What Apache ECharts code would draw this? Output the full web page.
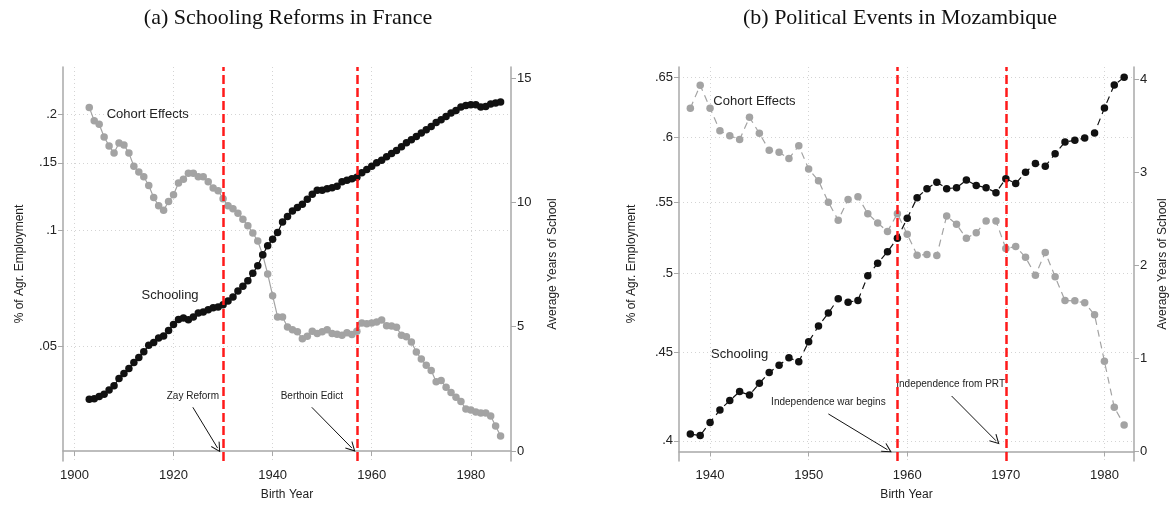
<!DOCTYPE html>
<html lang="en">
<head>
    <meta charset="UTF-8">
    <title>cohort_schooling</title>
    <style type="text/css">
        html, body { margin: 0; padding: 0; background: #fff; }
        #box { width: 1174px; height: 506px; }
    </style>
</head>
<body>
<div id="box"></div>
<script type="text/javascript" src="https://cdn.jsdelivr.net/npm/echarts@6/dist/echarts.min.js"></script>
<script type="text/javascript">
    // (a) France
    const franceYears = [1903, 1904, 1905, 1906, 1907, 1908, 1909, 1910, 1911, 1912, 1913, 1914, 1915, 1916,
        1917, 1918, 1919, 1920, 1921, 1922, 1923, 1924, 1925, 1926, 1927, 1928, 1929, 1930, 1931, 1932, 1933,
        1934, 1935, 1936, 1937, 1938, 1939, 1940, 1941, 1942, 1943, 1944, 1945, 1946, 1947, 1948, 1949, 1950,
        1951, 1952, 1953, 1954, 1955, 1956, 1957, 1958, 1959, 1960, 1961, 1962, 1963, 1964, 1965, 1966, 1967,
        1968, 1969, 1970, 1971, 1972, 1973, 1974, 1975, 1976, 1977, 1978, 1979, 1980, 1981, 1982, 1983, 1984,
        1985, 1986];
    const franceCohort = [.209, .193, .189, .175, .166, .159, .169, .167, .159, .147, .142, .138, .131, .122,
        .116, .113, .119, .124, .133, .136, .141, .141, .138, .138, .134, .129, .127, .121, .116, .114, .111,
        .107, .103, .0986, .094, .0865, .0772, .0678, .0597, .0597, .0562, .0553, .0546, .0524, .0532, .0548,
        .0541, .0546, .0553, .0541, .0538, .0535, .0543, .0537, .0548, .0576, .0573, .0576, .0579, .0586,
        .0566, .0565, .0561, .0535, .0530, .0514, .0484, .0464, .0447, .0433, .0405, .0408, .0392, .0380,
        .0369, .0360, .0344, .0342, .0338, .0336, .0336, .0330, .0311, .0293];
    const franceSchool = [2.08, 2.1, 2.19, 2.28, 2.45, 2.63, 2.92, 3.12, 3.32, 3.56, 3.76, 3.99, 4.25, 4.36,
        4.55, 4.63, 4.85, 5.09, 5.29, 5.35, 5.28, 5.39, 5.55, 5.59, 5.68, 5.76, 5.79, 5.88, 6.03, 6.19, 6.43,
        6.63, 6.85, 7.15, 7.45, 7.89, 8.25, 8.52, 8.79, 9.21, 9.43, 9.65, 9.79, 9.92, 10.12, 10.32, 10.48,
        10.49, 10.55, 10.59, 10.65, 10.83, 10.89, 10.95, 11.01, 11.19, 11.32, 11.45, 11.59, 11.69, 11.83,
        11.96, 12.08, 12.23, 12.39, 12.52, 12.65, 12.79, 12.92, 13.05, 13.21, 13.32, 13.45, 13.59, 13.69,
        13.83, 13.89, 13.92, 13.92, 13.83, 13.85, 13.95, 13.99, 14.03];
    const franceEvents = [1930, 1957];

    // (b) Mozambique
    const mozYears = [1938, 1939, 1940, 1941, 1942, 1943, 1944, 1945, 1946, 1947, 1948, 1949, 1950, 1951,
        1952, 1953, 1954, 1955, 1956, 1957, 1958, 1959, 1960, 1961, 1962, 1963, 1964, 1965, 1966, 1967, 1968,
        1969, 1970, 1971, 1972, 1973, 1974, 1975, 1976, 1977, 1978, 1979, 1980, 1981, 1982];
    const mozCohort = [.6236, .643, .6236, .605, .601, .598, .616, .603, .5895, .588, .583, .593, .575, .566,
        .550, .537, .552, .554, .5417, .535, .529, .5417, .527, .5125, .513, .5123, .540, .534, .5242, .528,
        .5364, .5364, .517, .5185, .511, .499, .5144, .498, .4824, .4822, .4809, .4733, .4448, .4183, .4086];
    const mozSchool = [.187, .173, .312, .447, .548, .644, .607, .733, .850, .928, 1.007, .965, 1.179, 1.350,
        1.489, 1.642, 1.606, 1.624, 1.891, 2.024, 2.148, 2.294, 2.508, 2.729, 2.826, 2.896, 2.826, 2.836,
        2.918, 2.861, 2.836, 2.783, 2.933, 2.882, 3.003, 3.096, 3.067, 3.200, 3.328, 3.346, 3.371, 3.425,
        3.692, 3.941, 4.024];
    const mozEvents = [1959, 1970];

    // ticks
    const franceXTicks = [1900, 1920, 1940, 1960, 1980];
    const franceAgrTicks = [.05, .1, .15, .2];
    const franceAgrLabels = ['.05', '.1', '.15', '.2'];
    const franceSchoolTicks = [0, 5, 10, 15];
    const mozXTicks = [1940, 1950, 1960, 1970, 1980];
    const mozAgrTicks = [.4, .45, .5, .55, .6, .65];
    const mozAgrLabels = ['.4', '.45', '.5', '.55', '.6', '.65'];
    const mozSchoolTicks = [0, 1, 2, 3, 4];

    const SANS = 'Liberation Sans';
    const GRAY = '#a3a3a3';
    const BLACK = '#111111';
    const AXIS = '#a8a8a8';

    function logLabel(ticks, labels) {
        return function (v) {
            for (let i = 0; i < ticks.length; i++) {
                if (Math.abs(Math.log(ticks[i]) - v) < 1e-6) return labels[i];
            }
            return '';
        };
    }

    function xAxisFor(gridIndex, min, max, ticks) {
        return {
            type: 'value', gridIndex: gridIndex, min: min, max: max,
            name: 'Birth Year', nameLocation: 'middle', nameGap: 28,
            nameTextStyle: {fontFamily: SANS, fontSize: 12, color: '#222'},
            axisLine: {lineStyle: {color: AXIS, width: 1.5}},
            axisTick: {customValues: ticks, length: 5, lineStyle: {color: AXIS}},
            axisLabel: {customValues: ticks, formatter: v => String(v),
                fontFamily: SANS, fontSize: 13, color: '#222', margin: 8},
            splitLine: {show: true, lineStyle: {color: '#d4d4d4', type: [1, 3]}}
        };
    }

    function agrAxis(gridIndex, min, max, ticks, labels, nameGap) {
        const logTicks = ticks.map(t => Math.log(t));
        return {
            type: 'value', gridIndex: gridIndex, position: 'left',
            min: Math.log(min), max: Math.log(max),
            name: '% of Agr. Employment', nameLocation: 'middle', nameGap: nameGap,
            nameTextStyle: {fontFamily: SANS, fontSize: 12, color: '#222'},
            axisLine: {show: true, lineStyle: {color: AXIS, width: 1.5}},
            axisTick: {show: true, customValues: logTicks, length: 5, lineStyle: {color: AXIS}},
            axisLabel: {customValues: logTicks, formatter: logLabel(ticks, labels),
                fontFamily: SANS, fontSize: 13, color: '#222', margin: 6},
            splitLine: {show: true, lineStyle: {color: '#d4d4d4', type: [1, 3]}}
        };
    }

    function schoolAxis(gridIndex, min, max, ticks, nameGap) {
        return {
            type: 'value', gridIndex: gridIndex, position: 'right', min: min, max: max,
            name: 'Average Years of School', nameLocation: 'middle', nameGap: nameGap, nameRotate: 90,
            nameTextStyle: {fontFamily: SANS, fontSize: 12, color: '#222'},
            axisLine: {show: true, lineStyle: {color: AXIS, width: 1.5}},
            axisTick: {show: true, customValues: ticks, length: 5, lineStyle: {color: AXIS}},
            axisLabel: {customValues: ticks, fontFamily: SANS, fontSize: 13, color: '#222', margin: 6},
            splitLine: {show: false}
        };
    }

    function pairs(xs, ys, f) {
        return xs.map((x, i) => [x, f ? f(ys[i]) : ys[i]]);
    }

    function textMark(coord, text, size) {
        return {
            coord: coord, symbol: 'circle', symbolSize: 0,
            label: {show: true, position: 'inside', formatter: text,
                fontFamily: SANS, fontSize: size, color: '#222'}
        };
    }

    const arrowHead = 'path://M0,0 L5,9 L4.2,9.6 L0,2.2 L-4.2,9.6 L-5,9 Z';

    function arrow(from, to) {
        return [{coord: from}, {coord: to}];
    }

    function eventLines(years) {
        return {
            silent: true, symbol: 'none', z: 10,
            label: {show: false},
            lineStyle: {color: '#ff1a1a', width: 2.5, type: [9, 4]},
            data: years.map(y => ({xAxis: y}))
        };
    }

    function lineSeries(name, xi, yi, data, color, dashed, extra) {
        return Object.assign({
            name: name, type: 'line', xAxisIndex: xi, yAxisIndex: yi, data: data,
            symbol: 'circle', symbolSize: 7.5, showSymbol: true, animation: false,
            itemStyle: {color: color}, lineStyle: {color: color, width: 1.2, type: dashed ? [7, 5] : 'solid'},
            emphasis: {disabled: true}
        }, extra || {});
    }

    let myChart = echarts.init(document.getElementById('box'));
    let option = {
        animation: false,
        title: [
            {text: '(a) Schooling Reforms in France', left: 283, top: 2, textAlign: 'center',
                textStyle: {fontFamily: 'Liberation Serif', fontSize: 22, fontWeight: 'normal', color: '#111'}},
            {text: '(b) Political Events in Mozambique', left: 895, top: 2, textAlign: 'center',
                textStyle: {fontFamily: 'Liberation Serif', fontSize: 22, fontWeight: 'normal', color: '#111'}}
        ],
        grid: [
            {left: 63, top: 67, width: 448, height: 396},
            {left: 679, top: 67, width: 455, height: 396}
        ],
        xAxis: [
            xAxisFor(0, 1897.7, 1988.1, franceXTicks),
            xAxisFor(1, 1936.85, 1983.0, mozXTicks)
        ],
        yAxis: [
            agrAxis(0, .02522, .2661, franceAgrTicks, franceAgrLabels, 37),
            schoolAxis(0, -0.4, 15.44, franceSchoolTicks, 36),
            agrAxis(1, .3894, .6588, mozAgrTicks, mozAgrLabels, 41),
            schoolAxis(1, -0.102, 4.134, mozSchoolTicks, 23)
        ],
        series: [
            lineSeries('Cohort Effects', 0, 0, pairs(franceYears, franceCohort, Math.log), GRAY, false),
            lineSeries('Schooling', 0, 1, pairs(franceYears, franceSchool), BLACK, false, {
                markLine: eventLines(franceEvents),
                markPoint: {
                    silent: true,
                    data: [
                        textMark([1914.8, 13.52], 'Cohort Effects', 13),
                        textMark([1919.3, 6.24], 'Schooling', 13),
                        textMark([1923.9, 2.2], 'Zay Reform', 10),
                        textMark([1947.9, 2.2], 'Berthoin Edict', 10)
                    ]
                }
            }),
            lineSeries('arrowsA', 0, 1, [], BLACK, false, {
                markLine: {
                    silent: true, symbol: ['none', arrowHead], symbolSize: [10, 10],
                    label: {show: false},
                    lineStyle: {color: '#111', width: 1, type: 'solid'},
                    data: [
                        arrow([1923.9, 1.76], [1928.9, 0.12]),
                        arrow([1947.9, 1.76], [1956.0, 0.12])
                    ]
                }
            }),
            lineSeries('Cohort Effects', 1, 2, pairs(mozYears, mozCohort, Math.log), GRAY, true),
            lineSeries('Schooling', 1, 3, pairs(mozYears, mozSchool), BLACK, true, {
                markLine: eventLines(mozEvents),
                markPoint: {
                    silent: true,
                    data: [
                        textMark([1944.5, 3.763], 'Cohort Effects', 13),
                        textMark([1943.0, 1.046], 'Schooling', 13),
                        textMark([1952.0, 0.526], 'Independence war begins', 10),
                        textMark([1964.4, 0.722], 'Independence from PRT', 10)
                    ]
                }
            }),
            lineSeries('arrowsB', 1, 3, [], BLACK, false, {
                markLine: {
                    silent: true, symbol: ['none', arrowHead], symbolSize: [10, 10],
                    label: {show: false},
                    lineStyle: {color: '#111', width: 1, type: 'solid'},
                    data: [
                        arrow([1952.0, 0.404], [1958.0, 0.019]),
                        arrow([1964.5, 0.597], [1969.0, 0.116])
                    ]
                }
            })
        ]
    };
    myChart.setOption(option);
</script>
</body>
</html>
